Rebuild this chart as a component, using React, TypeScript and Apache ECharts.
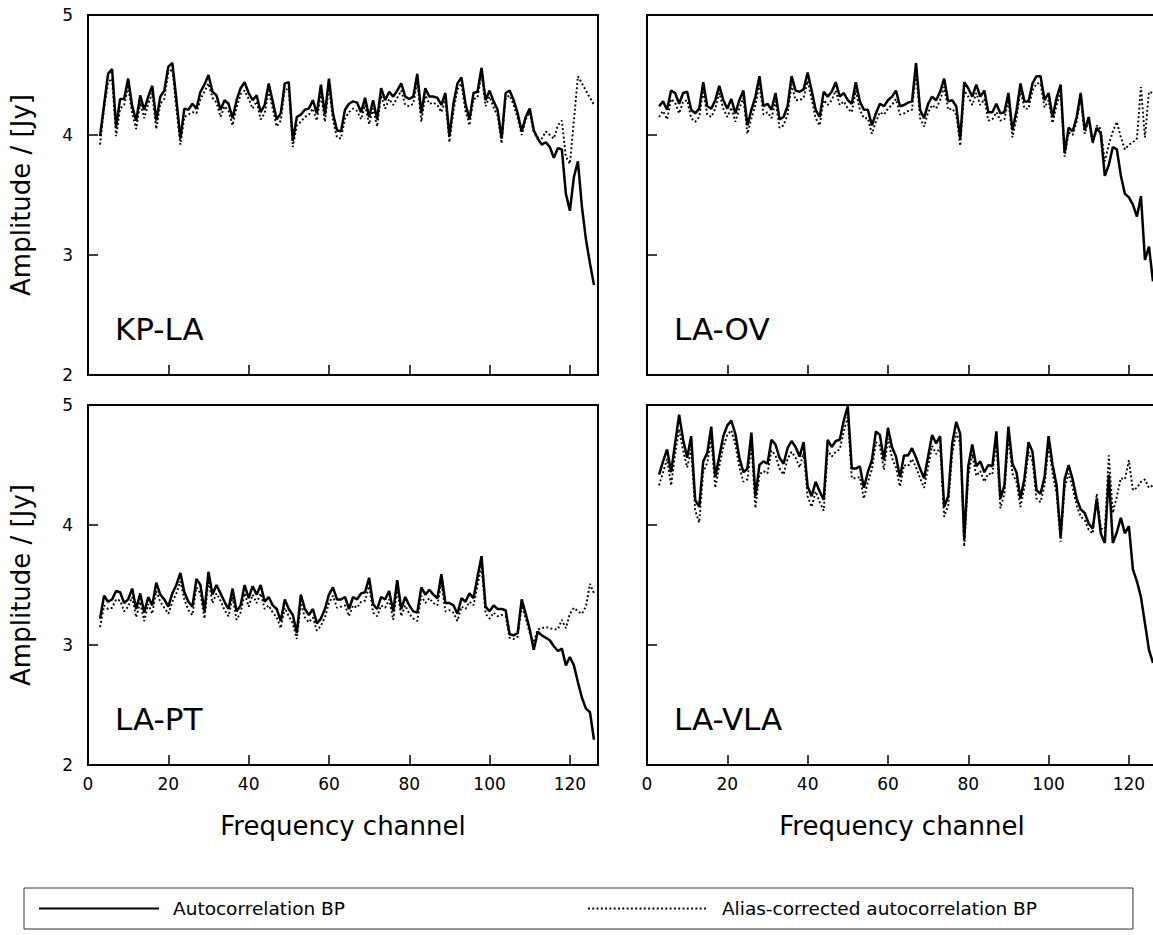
import React, { useEffect, useRef } from "react";
import * as echarts from "echarts";

const channels = [
  3, 4, 5, 6, 7, 8, 9, 10, 11, 12,
  13, 14, 15, 16, 17, 18, 19, 20, 21, 22,
  23, 24, 25, 26, 27, 28, 29, 30, 31, 32,
  33, 34, 35, 36, 37, 38, 39, 40, 41, 42,
  43, 44, 45, 46, 47, 48, 49, 50, 51, 52,
  53, 54, 55, 56, 57, 58, 59, 60, 61, 62,
  63, 64, 65, 66, 67, 68, 69, 70, 71, 72,
  73, 74, 75, 76, 77, 78, 79, 80, 81, 82,
  83, 84, 85, 86, 87, 88, 89, 90, 91, 92,
  93, 94, 95, 96, 97, 98, 99, 100, 101, 102,
  103, 104, 105, 106, 107, 108, 109, 110, 111, 112,
  113, 114, 115, 116, 117, 118, 119, 120, 121, 122,
  123, 124, 125, 126,
];

const kpLaAuto = [
  3.99, 4.25, 4.51, 4.55, 4.07, 4.30, 4.30, 4.47, 4.24, 4.12,
  4.33, 4.21, 4.32, 4.41, 4.12, 4.32, 4.37, 4.57, 4.60, 4.30,
  3.97, 4.22, 4.21, 4.26, 4.22, 4.36, 4.42, 4.50, 4.36, 4.33,
  4.21, 4.29, 4.26, 4.14, 4.29, 4.39, 4.44, 4.35, 4.29, 4.33,
  4.19, 4.25, 4.43, 4.28, 4.13, 4.18, 4.43, 4.44, 3.95, 4.15,
  4.17, 4.21, 4.22, 4.29, 4.18, 4.42, 4.17, 4.47, 4.18, 4.04,
  4.03, 4.21, 4.26, 4.28, 4.27, 4.19, 4.31, 4.15, 4.29, 4.13,
  4.39, 4.29, 4.36, 4.32, 4.37, 4.43, 4.32, 4.30, 4.32, 4.51,
  4.18, 4.39, 4.32, 4.32, 4.31, 4.25, 4.35, 3.99, 4.26, 4.43,
  4.48, 4.26, 4.13, 4.35, 4.36, 4.56, 4.29, 4.37, 4.28, 4.21,
  3.97, 4.35, 4.37, 4.29, 4.18, 4.03, 4.15, 4.22, 4.04, 3.97,
  3.92, 3.94, 3.90, 3.81, 3.89, 3.88, 3.51, 3.37, 3.65, 3.78,
  3.40, 3.13, 2.93, 2.75,
];
const kpLaAlias = [
  3.92, 4.22, 4.44, 4.47, 3.99, 4.22, 4.25, 4.40, 4.18, 4.05,
  4.27, 4.14, 4.26, 4.35, 4.05, 4.26, 4.30, 4.52, 4.55, 4.22,
  3.92, 4.15, 4.17, 4.19, 4.18, 4.30, 4.36, 4.43, 4.31, 4.27,
  4.15, 4.24, 4.20, 4.08, 4.23, 4.34, 4.37, 4.30, 4.22, 4.28,
  4.13, 4.18, 4.37, 4.22, 4.07, 4.12, 4.38, 4.38, 3.90, 4.08,
  4.11, 4.15, 4.17, 4.22, 4.12, 4.35, 4.11, 4.41, 4.12, 3.98,
  3.97, 4.14, 4.19, 4.22, 4.20, 4.13, 4.25, 4.09, 4.22, 4.07,
  4.33, 4.22, 4.30, 4.25, 4.31, 4.37, 4.25, 4.24, 4.26, 4.45,
  4.11, 4.33, 4.26, 4.27, 4.25, 4.19, 4.29, 3.94, 4.20, 4.38,
  4.43, 4.20, 4.08, 4.30, 4.31, 4.51, 4.24, 4.32, 4.23, 4.16,
  3.93, 4.31, 4.33, 4.25, 4.14, 4.00, 4.13, 4.19, 4.02, 3.98,
  3.97, 4.03, 4.00, 3.97, 4.08, 4.12, 3.82, 3.76, 4.12, 4.49,
  4.43, 4.37, 4.31, 4.25,
];

const laOvAuto = [
  4.24, 4.28, 4.21, 4.37, 4.35, 4.26, 4.35, 4.36, 4.21, 4.18,
  4.22, 4.44, 4.24, 4.22, 4.29, 4.41, 4.29, 4.22, 4.30, 4.18,
  4.29, 4.37, 4.08, 4.21, 4.32, 4.49, 4.24, 4.26, 4.21, 4.35,
  4.13, 4.15, 4.24, 4.49, 4.37, 4.36, 4.38, 4.52, 4.37, 4.21,
  4.15, 4.36, 4.32, 4.36, 4.44, 4.32, 4.35, 4.29, 4.26, 4.44,
  4.28, 4.21, 4.21, 4.08, 4.18, 4.26, 4.24, 4.29, 4.32, 4.37,
  4.24, 4.25, 4.27, 4.28, 4.60, 4.21, 4.14, 4.26, 4.32, 4.29,
  4.36, 4.47, 4.28, 4.29, 4.24, 3.97, 4.44, 4.39, 4.32, 4.42,
  4.32, 4.37, 4.19, 4.19, 4.26, 4.18, 4.19, 4.35, 4.04, 4.20,
  4.43, 4.28, 4.28, 4.43, 4.49, 4.49, 4.29, 4.35, 4.15, 4.31,
  4.42, 3.85, 4.06, 4.03, 4.15, 4.35, 4.04, 4.15, 3.94, 4.06,
  4.01, 3.66, 3.75, 3.90, 3.88, 3.66, 3.51, 3.48, 3.42, 3.32,
  3.49, 2.96, 3.07, 2.78,
];
const laOvAlias = [
  4.15, 4.20, 4.13, 4.30, 4.27, 4.18, 4.28, 4.29, 4.14, 4.11,
  4.15, 4.37, 4.17, 4.15, 4.22, 4.35, 4.22, 4.15, 4.23, 4.11,
  4.22, 4.31, 4.01, 4.14, 4.25, 4.42, 4.17, 4.19, 4.14, 4.28,
  4.06, 4.08, 4.17, 4.42, 4.29, 4.29, 4.31, 4.45, 4.30, 4.14,
  4.08, 4.29, 4.25, 4.29, 4.37, 4.25, 4.28, 4.22, 4.19, 4.37,
  4.21, 4.14, 4.14, 4.01, 4.11, 4.19, 4.17, 4.22, 4.25, 4.30,
  4.17, 4.18, 4.20, 4.21, 4.53, 4.14, 4.07, 4.19, 4.25, 4.22,
  4.29, 4.40, 4.21, 4.22, 4.17, 3.91, 4.37, 4.32, 4.25, 4.35,
  4.25, 4.30, 4.12, 4.13, 4.19, 4.12, 4.13, 4.29, 3.98, 4.14,
  4.37, 4.22, 4.22, 4.37, 4.43, 4.43, 4.23, 4.29, 4.10, 4.25,
  4.36, 3.82, 4.02, 4.00, 4.11, 4.31, 4.01, 4.12, 3.93, 4.08,
  4.05, 3.78, 3.92, 4.03, 4.11, 3.98, 3.88, 3.92, 3.94, 3.97,
  4.40, 3.98, 4.36, 4.35,
];

const laPtAuto = [
  3.22, 3.41, 3.36, 3.38, 3.45, 3.44, 3.35, 3.38, 3.47, 3.30,
  3.43, 3.27, 3.40, 3.33, 3.52, 3.42, 3.38, 3.32, 3.43, 3.50,
  3.60, 3.44, 3.36, 3.32, 3.55, 3.50, 3.28, 3.61, 3.42, 3.50,
  3.43, 3.36, 3.30, 3.47, 3.28, 3.33, 3.50, 3.39, 3.49, 3.42,
  3.50, 3.36, 3.40, 3.33, 3.30, 3.20, 3.38, 3.30, 3.25, 3.10,
  3.42, 3.30, 3.25, 3.30, 3.18, 3.22, 3.30, 3.42, 3.48, 3.38,
  3.38, 3.40, 3.30, 3.40, 3.38, 3.43, 3.44, 3.56, 3.34, 3.30,
  3.40, 3.38, 3.45, 3.28, 3.54, 3.30, 3.40, 3.33, 3.28, 3.27,
  3.48, 3.42, 3.46, 3.42, 3.39, 3.59, 3.35, 3.35, 3.33, 3.26,
  3.39, 3.36, 3.43, 3.39, 3.57, 3.74, 3.32, 3.28, 3.33, 3.30,
  3.30, 3.29, 3.09, 3.08, 3.10, 3.38, 3.26, 3.13, 2.96, 3.11,
  3.08, 3.06, 3.04, 2.99, 2.95, 2.97, 2.83, 2.90, 2.83, 2.69,
  2.56, 2.47, 2.44, 2.21,
];
const laPtAlias = [
  3.15, 3.33, 3.30, 3.31, 3.38, 3.37, 3.28, 3.32, 3.40, 3.23,
  3.36, 3.20, 3.34, 3.26, 3.45, 3.36, 3.31, 3.26, 3.36, 3.43,
  3.53, 3.38, 3.29, 3.25, 3.48, 3.43, 3.22, 3.54, 3.35, 3.43,
  3.37, 3.29, 3.24, 3.40, 3.21, 3.27, 3.43, 3.32, 3.42, 3.35,
  3.43, 3.30, 3.33, 3.27, 3.23, 3.14, 3.31, 3.24, 3.18, 3.05,
  3.35, 3.23, 3.19, 3.23, 3.12, 3.16, 3.23, 3.35, 3.41, 3.31,
  3.32, 3.33, 3.24, 3.33, 3.31, 3.36, 3.37, 3.49, 3.27, 3.24,
  3.33, 3.31, 3.38, 3.21, 3.47, 3.24, 3.33, 3.26, 3.22, 3.20,
  3.41, 3.35, 3.39, 3.35, 3.33, 3.52, 3.28, 3.29, 3.27, 3.20,
  3.32, 3.30, 3.36, 3.33, 3.50, 3.66, 3.26, 3.22, 3.27, 3.24,
  3.25, 3.24, 3.06, 3.05, 3.07, 3.33, 3.22, 3.10, 3.02, 3.13,
  3.14, 3.15, 3.14, 3.13, 3.13, 3.21, 3.14, 3.26, 3.31, 3.28,
  3.26, 3.32, 3.51, 3.43,
];

const laVlaAuto = [
  4.42, 4.53, 4.63, 4.44, 4.68, 4.92, 4.71, 4.56, 4.74, 4.21,
  4.15, 4.53, 4.60, 4.82, 4.40, 4.57, 4.74, 4.83, 4.87, 4.76,
  4.56, 4.44, 4.47, 4.77, 4.24, 4.50, 4.53, 4.51, 4.71, 4.67,
  4.56, 4.51, 4.64, 4.70, 4.65, 4.57, 4.69, 4.32, 4.24, 4.36,
  4.28, 4.21, 4.71, 4.65, 4.70, 4.71, 4.87, 4.99, 4.47, 4.47,
  4.49, 4.31, 4.44, 4.54, 4.78, 4.75, 4.54, 4.81, 4.65, 4.57,
  4.40, 4.58, 4.58, 4.64, 4.56, 4.47, 4.39, 4.57, 4.75, 4.68,
  4.74, 4.15, 4.24, 4.68, 4.86, 4.76, 3.88, 4.49, 4.67, 4.49,
  4.53, 4.44, 4.50, 4.49, 4.78, 4.22, 4.33, 4.82, 4.51, 4.44,
  4.22, 4.39, 4.69, 4.61, 4.29, 4.26, 4.40, 4.74, 4.50, 4.33,
  3.90, 4.38, 4.50, 4.38, 4.22, 4.13, 4.10, 4.01, 3.97, 4.22,
  3.93, 3.85, 4.42, 3.85, 3.94, 4.06, 3.93, 3.99, 3.63, 3.53,
  3.40, 3.18, 2.96, 2.85,
];
const laVlaAlias = [
  4.33, 4.44, 4.55, 4.33, 4.59, 4.80, 4.62, 4.48, 4.63, 4.12,
  4.02, 4.44, 4.52, 4.72, 4.31, 4.49, 4.65, 4.75, 4.79, 4.67,
  4.48, 4.36, 4.38, 4.68, 4.14, 4.42, 4.45, 4.43, 4.62, 4.58,
  4.47, 4.42, 4.55, 4.61, 4.56, 4.48, 4.60, 4.24, 4.15, 4.28,
  4.19, 4.12, 4.62, 4.57, 4.61, 4.63, 4.78, 4.90, 4.39, 4.39,
  4.40, 4.22, 4.36, 4.46, 4.69, 4.66, 4.46, 4.72, 4.56, 4.48,
  4.32, 4.50, 4.49, 4.55, 4.48, 4.39, 4.31, 4.48, 4.66, 4.59,
  4.65, 4.07, 4.16, 4.59, 4.77, 4.68, 3.82, 4.41, 4.59, 4.41,
  4.45, 4.36, 4.43, 4.42, 4.70, 4.14, 4.26, 4.74, 4.43, 4.36,
  4.15, 4.32, 4.61, 4.53, 4.22, 4.19, 4.33, 4.66, 4.43, 4.26,
  3.86, 4.31, 4.43, 4.31, 4.16, 4.07, 4.04, 3.96, 3.93, 4.26,
  3.98, 3.94, 4.58, 4.10, 4.24, 4.39, 4.38, 4.54, 4.29, 4.31,
  4.36, 4.38, 4.31, 4.33,
];

const xTicks = [0, 20, 40, 60, 80, 100, 120];
const yTicks = [2, 3, 4, 5];
const legendNames = ["Autocorrelation BP", "Alias-corrected autocorrelation BP"];

const panels = [
  { label: "KP-LA", auto: kpLaAuto, alias: kpLaAlias },
  { label: "LA-OV", auto: laOvAuto, alias: laOvAlias },
  { label: "LA-PT", auto: laPtAuto, alias: laPtAlias },
  { label: "LA-VLA", auto: laVlaAuto, alias: laVlaAlias },
];

const FONT = "DejaVu Sans";
const GRID_W = 510;
const GRID_H = 360;
const gridPos = [
  { left: 88, top: 15 },
  { left: 647, top: 15 },
  { left: 88, top: 405 },
  { left: 647, top: 405 },
];

function pairs(vals: number[]) {
  return vals.map((v, i) => [channels[i], v]);
}

export default function App() {
  const ref = useRef<HTMLDivElement>(null);

  useEffect(() => {
    if (!ref.current) return;
    document.body.style.overflow = "hidden";
    const chart = echarts.init(ref.current, undefined, { renderer: "svg" });

    const grid = gridPos.map((g) => ({
      left: g.left,
      top: g.top,
      width: GRID_W,
      height: GRID_H,
      show: true,
      borderColor: "#000",
      borderWidth: 2,
      backgroundColor: "transparent",
      containLabel: false,
    }));

    const xAxis = gridPos.map((_, i) => {
      const bottom = i >= 2;
      return {
        type: "value",
        gridIndex: i,
        min: 0,
        max: 127,
        interval: 20,
        axisLine: { show: false },
        splitLine: { show: false },
        axisTick: { show: true, inside: true, length: 10, lineStyle: { color: "#000", width: 1.5 } },
        axisLabel: {
          show: bottom,
          margin: 10,
          color: "#000",
          fontSize: 17,
          fontFamily: FONT,
          formatter: (v: number) => (xTicks.includes(v) ? String(v) : ""),
        },
        name: bottom ? "Frequency channel" : "",
        nameLocation: "middle",
        nameGap: 48,
        nameTextStyle: { color: "#000", fontSize: 26, fontFamily: FONT },
      };
    });

    const yAxis = gridPos.map((_, i) => {
      const leftCol = i % 2 === 0;
      return {
        type: "value",
        gridIndex: i,
        min: 2,
        max: 5,
        interval: 1,
        axisLine: { show: false },
        splitLine: { show: false },
        axisTick: { show: true, inside: true, length: 10, lineStyle: { color: "#000", width: 1.5 } },
        axisLabel: {
          show: leftCol,
          margin: 15,
          color: "#000",
          fontSize: 17,
          fontFamily: FONT,
          formatter: (v: number) => (yTicks.includes(v) ? String(v) : ""),
        },
        name: leftCol ? "Amplitude / [Jy]" : "",
        nameLocation: "middle",
        nameRotate: 90,
        nameGap: 54,
        nameTextStyle: { color: "#000", fontSize: 26, fontFamily: FONT },
      };
    });

    const series: any[] = [];
    panels.forEach((p, i) => {
      series.push({
        type: "line",
        name: legendNames[1],
        xAxisIndex: i,
        yAxisIndex: i,
        data: pairs(p.alias),
        symbol: "none",
        lineStyle: { color: "#000", width: 1.9, type: [1.9, 2.4] },
        itemStyle: { color: "#000" },
        z: 2,
      });
      series.push({
        type: "line",
        name: legendNames[0],
        xAxisIndex: i,
        yAxisIndex: i,
        data: pairs(p.auto),
        symbol: "none",
        lineStyle: { color: "#000", width: 2.5, type: "solid" },
        itemStyle: { color: "#000" },
        z: 3,
      });
    });

    const graphic = panels.map((p, i) => ({
      type: "text",
      left: gridPos[i].left + 27,
      top: gridPos[i].top + 298,
      style: { text: p.label, fill: "#000", font: `31px "${FONT}"` },
      silent: true,
    }));

    chart.setOption({
      animation: false,
      backgroundColor: "#fff",
      textStyle: { fontFamily: FONT },
      grid,
      xAxis,
      yAxis,
      series,
      graphic,
      legend: {
        data: legendNames,
        left: 24,
        top: 888,
        orient: "horizontal",
        itemWidth: 120,
        itemHeight: 14,
        itemGap: 242,
        padding: [11, 96, 11, 14],
        borderColor: "#333",
        borderWidth: 1,
        selectedMode: false,
        itemStyle: { opacity: 0, borderWidth: 0 },
        textStyle: { color: "#000", fontSize: 18.5, fontFamily: FONT, padding: [0, 0, 0, 9] },
      },
    });

    return () => {
      chart.dispose();
    };
  }, []);

  return (
    <div
      ref={ref}
      style={{ position: "fixed", left: 0, top: 0, width: 1165, height: 935, background: "#fff" }}
    />
  );
}
